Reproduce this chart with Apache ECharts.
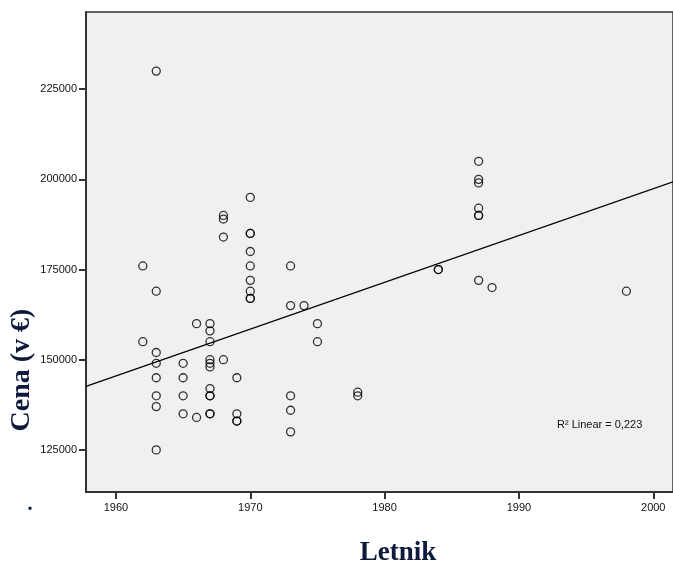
<!DOCTYPE html>
<html>
<head>
<meta charset="utf-8">
<script src="https://cdn.jsdelivr.net/npm/echarts@6/dist/echarts.min.js"></script>
<style>
  html, body { margin: 0; padding: 0; background: #fff; }
  #main { width: 673px; height: 567px; }
</style>
</head>
<body>
<div id="main"></div>
<script>
// data (year of build, price in EUR)
var letnik = [
  1962, 1962,
  1963, 1963, 1963, 1963, 1963, 1963, 1963, 1963,
  1965, 1965, 1965, 1965,
  1966, 1966,
  1967, 1967, 1967, 1967, 1967, 1967, 1967, 1967, 1967, 1967, 1967,
  1968, 1968, 1968, 1968,
  1969, 1969, 1969, 1969,
  1970, 1970, 1970, 1970, 1970, 1970, 1970, 1970, 1970,
  1973, 1973, 1973, 1973, 1973,
  1974,
  1975, 1975,
  1978, 1978,
  1984, 1984,
  1987, 1987, 1987, 1987, 1987, 1987, 1987,
  1988,
  1998
];
var cena = [
  176000, 155000,
  230000, 169000, 152000, 149000, 145000, 140000, 137000, 125000,
  149000, 145000, 140000, 135000,
  160000, 134000,
  160000, 158000, 155000, 150000, 149000, 148000, 142000, 140000, 140000, 135000, 135000,
  190000, 189000, 184000, 150000,
  145000, 135000, 133000, 133000,
  195000, 185000, 185000, 180000, 176000, 172000, 169000, 167000, 167000,
  176000, 165000, 140000, 136000, 130000,
  165000,
  160000, 155000,
  141000, 140000,
  175000, 175000,
  205000, 200000, 199000, 192000, 190000, 190000, 172000,
  170000,
  169000
];
// fit line (SPSS linear fit) read at the two plot edges
var fitX = [1957.77, 2001.47];
var fitY = [142600, 199300];
var xTicks = [1960, 1970, 1980, 1990, 2000];
var yTicks = [125000, 150000, 175000, 200000, 225000];
var xRange = [1957.77, 2001.47];
var yRange = [113333, 246389];
var r2Text = 'R² Linear = 0,223';

var points = letnik.map(function (x, i) { return [x, cena[i]]; });
var fitLine = fitX.map(function (x, i) { return [x, fitY[i]]; });

var titleColor = '#0d1a3c';
var plain = function (v) { return String(v); };
var myChart = echarts.init(document.getElementById('main'));
var option = {
  animation: false,
  backgroundColor: '#ffffff',
  grid: {
    left: 86, top: 12, right: 0, bottom: 75,
    show: true,
    backgroundColor: '#f0f0f0',
    borderColor: '#333',
    borderWidth: 1.5
  },
  xAxis: {
    type: 'value',
    min: xRange[0],
    max: xRange[1],
    axisLine: { show: true, onZero: false, lineStyle: { color: '#333', width: 2 } },
    axisTick: { show: true, customValues: xTicks, length: 7, lineStyle: { color: '#333', width: 2 } },
    axisLabel: {
      customValues: xTicks,
      formatter: plain,
      margin: 10,
      fontFamily: 'Liberation Sans',
      fontSize: 11,
      color: '#111'
    },
    splitLine: { show: false }
  },
  yAxis: {
    type: 'value',
    min: yRange[0],
    max: yRange[1],
    axisLine: { show: true, onZero: false, lineStyle: { color: '#333', width: 2 } },
    axisTick: { show: true, customValues: yTicks, length: 7, lineStyle: { color: '#333', width: 2 } },
    axisLabel: {
      customValues: yTicks,
      formatter: plain,
      margin: 9,
      fontFamily: 'Liberation Sans',
      fontSize: 11,
      color: '#111'
    },
    splitLine: { show: false }
  },
  series: [
    {
      type: 'scatter',
      data: points,
      symbol: 'circle',
      symbolSize: 8,
      itemStyle: { color: 'rgba(0,0,0,0)', borderColor: '#000', borderWidth: 1.3 }
    },
    {
      type: 'line',
      data: fitLine,
      symbol: 'none',
      silent: true,
      lineStyle: { color: '#000', width: 1.2 }
    }
  ],
  graphic: [
    {
      type: 'text',
      x: 22, y: 370,
      rotation: Math.PI / 2,
      style: {
        text: 'Cena (v €)',
        font: 'bold 28px "Liberation Serif"',
        fill: titleColor,
        align: 'center',
        verticalAlign: 'middle'
      }
    },
    {
      type: 'text',
      x: 398, y: 553,
      style: {
        text: 'Letnik',
        font: 'bold 27px "Liberation Serif"',
        fill: titleColor,
        align: 'center',
        verticalAlign: 'middle'
      }
    },
    {
      type: 'text',
      x: 30, y: 505,
      style: {
        text: '.',
        font: 'bold 20px "Liberation Serif"',
        fill: titleColor,
        align: 'center',
        verticalAlign: 'middle'
      }
    },
    {
      type: 'text',
      x: 557, y: 425,
      style: {
        text: r2Text,
        font: '11px "Liberation Sans"',
        fill: '#111',
        verticalAlign: 'middle'
      }
    }
  ]
};
myChart.setOption(option);
</script>
</body>
</html>
